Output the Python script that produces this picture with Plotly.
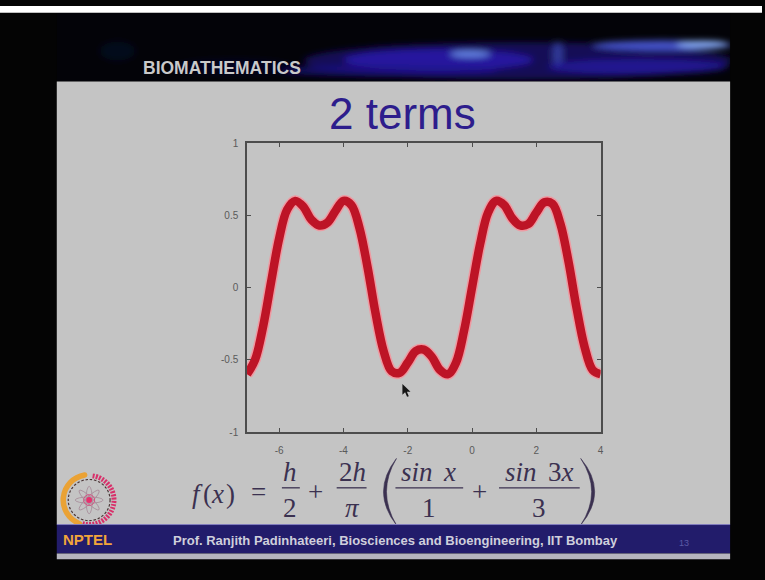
import base64
import math
import plotly.graph_objects as go

W, H = 765, 580

# Two-term Fourier partial sum, values sampled along the x axis
x_vals = [-7.0, -6.75, -6.5, -6.25, -6.0, -5.75, -5.5, -5.25, -5.0, -4.75, -4.5, -4.25,
          -4.0, -3.75, -3.5, -3.25, -3.0, -2.75, -2.5, -2.25, -2.0, -1.75, -1.5, -1.25,
          -1.0, -0.75, -0.5, -0.25, 0.0, 0.25, 0.5, 0.75, 1.0, 1.25, 1.5, 1.75,
          2.0, 2.25, 2.5, 2.75, 3.0, 3.25, 3.5, 3.75, 4.0]
y_vals = [-0.60, -0.50, -0.27, 0.04, 0.34, 0.54, 0.60, 0.56, 0.47, 0.43, 0.45, 0.53,
          0.60, 0.57, 0.41, 0.14, -0.18, -0.44, -0.58, -0.59, -0.52, -0.44, -0.43, -0.48,
          -0.57, -0.60, -0.52, -0.30, 0.00, 0.30, 0.52, 0.60, 0.57, 0.48, 0.43, 0.44,
          0.52, 0.59, 0.58, 0.44, 0.18, -0.14, -0.41, -0.57, -0.60]

x_ticks = [-6, -4, -2, 0, 2, 4]
x_ticklabels = ["-6", "-4", "-2", "0", "2", "4"]
y_ticks = [-1, -0.5, 0, 0.5, 1]
y_ticklabels = ["-1", "-0.5", "0", "0.5", "1"]

title_text = "2 terms"
header_text = "BIOMATHEMATICS"
footer_text = "Prof. Ranjith Padinhateeri, Biosciences and Bioengineering, IIT Bombay"
logo_text = "NPTEL"
page_no = "13"

SLIDE = "#c4c4c4"
NAVY = "#221c6b"
FORMULA = "#3b3150"
SERIF = "Liberation Serif, Times New Roman, serif"
SANS = "Liberation Sans, Arial, sans-serif"


def px(x):
    return x / W


def py(y):
    return 1 - y / H


def svg_uri(svg):
    return "data:image/svg+xml;base64," + base64.b64encode(svg.encode()).decode()


def arc(cx, cy, r, a0, a1, sweep):
    p0 = (cx + r * math.cos(math.radians(a0)), cy - r * math.sin(math.radians(a0)))
    p1 = (cx + r * math.cos(math.radians(a1)), cy - r * math.sin(math.radians(a1)))
    large = 1 if abs(a1 - a0) > 180 else 0
    return f"M{p0[0]:.2f},{p0[1]:.2f} A{r},{r} 0 {large} {sweep} {p1[0]:.2f},{p1[1]:.2f}"


# ---- header glow (blurred blue streaks) ----
hx0, hy0, hw, hh = 57, 7, 676, 70
streaks = [
    (520, 56, 215, 19, "#170f5e", 0.9),
    (440, 55, 95, 11, "#2a1cb0", 0.8),
    (472, 49, 20, 3.5, "#6a8ee8", 0.9),
    (560, 50, 5, 14, "#3c4cb8", 0.7),
    (665, 40, 70, 5, "#4a5ad8", 0.9),
    (705, 39, 26, 3.5, "#8fb6ff", 0.95),
    (640, 62, 90, 8, "#22159c", 0.8),
    (390, 66, 110, 6, "#1d138c", 0.7),
    (118, 46, 18, 10, "#0e1448", 0.3),
    (235, 62, 60, 8, "#0c0c40", 0.4),
]
ell = "".join(
    f"<ellipse cx='{cx - hx0}' cy='{cy - hy0}' rx='{rx}' ry='{ry}' fill='{c}' opacity='{o}'/>"
    for cx, cy, rx, ry, c, o in streaks
)
header_svg = (
    f"<svg xmlns='http://www.w3.org/2000/svg' width='{hw}' height='{hh}' viewBox='0 0 {hw} {hh}'>"
    "<defs><filter id='b' x='-20%' y='-50%' width='140%' height='200%'>"
    "<feGaussianBlur stdDeviation='3.5'/></filter></defs>"
    f"<rect width='{hw}' height='{hh}' fill='#030308'/>"
    f"<g filter='url(#b)'>{ell}</g></svg>"
)

# ---- NPTEL emblem ----
c = 32
petals = "".join(
    f"<ellipse cx='{c}' cy='{c}' rx='14' ry='3.2' transform='rotate({a} {c} {c})' "
    "fill='none' stroke='#a88f9c' stroke-width='0.9'/>"
    for a in (0, 45, 90, 135)
)
logo_svg = (
    "<svg xmlns='http://www.w3.org/2000/svg' width='64' height='64' viewBox='0 0 64 64'>"
    f"<path d='{arc(c, c, 26, 100, 248, 0)}' fill='none' stroke='#eaa235' stroke-width='5.5' stroke-linecap='round'/>"
    f"<path d='{arc(c, c, 25, 82, -108, 1)}' fill='none' stroke='#d8306a' stroke-width='5' stroke-dasharray='2 1.3'/>"
    f"<circle cx='{c}' cy='{c}' r='21' fill='none' stroke='#4a3535' stroke-width='1.2' stroke-dasharray='2.5 1.8'/>"
    f"{petals}"
    f"<circle cx='{c}' cy='{c}' r='5.5' fill='none' stroke='#d05080' stroke-width='1'/>"
    f"<circle cx='{c}' cy='{c}' r='3' fill='#e8306e'/>"
    "</svg>"
)

# ---- mouse pointer ----
cursor_svg = (
    "<svg xmlns='http://www.w3.org/2000/svg' width='10' height='15' viewBox='0 0 10 15'>"
    "<polygon points='0.5,0.5 0.5,11.5 3.2,9 5.2,13.6 6.9,12.9 5,8.4 8.6,8.4' fill='#161616'/>"
    "</svg>"
)

fig = go.Figure()
fig.add_trace(go.Scatter(x=x_vals, y=y_vals, mode="lines",
                         line=dict(color="#ee9aa2", width=11.5, shape="spline"),
                         hoverinfo="skip", showlegend=False))
fig.add_trace(go.Scatter(x=x_vals, y=y_vals, mode="lines",
                         line=dict(color="#bd1426", width=8.5, shape="spline"),
                         showlegend=False))

shapes = [
    dict(type="rect", xref="paper", yref="paper", x0=0, x1=1, y0=py(0), y1=py(7),
         fillcolor="#ffffff", line_width=0, layer="below"),
    dict(type="rect", xref="paper", yref="paper", x0=px(57), x1=px(733), y0=py(77), y1=py(529),
         fillcolor=SLIDE, line_width=0, layer="below"),
]

# fraction bars
for a, b in [(283, 301), (338, 368), (397, 465), (501, 582)]:
    shapes.append(dict(type="line", xref="paper", yref="paper", x0=px(a), x1=px(b),
                       y0=py(492), y1=py(492), line=dict(color=FORMULA, width=1.3)))


def paren(xe, xo, xi, top, bot):
    mid = (top + bot) / 2
    return (f"M{px(xe)},{py(top)} Q{px(xo)},{py(mid)} {px(xe)},{py(bot)} "
            f"Q{px(xi)},{py(mid)} {px(xe)},{py(top)} Z")


shapes.append(dict(type="path", xref="paper", yref="paper", path=paren(398, 372, 378, 462, 530),
                   fillcolor=FORMULA, line=dict(color=FORMULA, width=0.6)))
shapes.append(dict(type="path", xref="paper", yref="paper", path=paren(583, 611, 605, 462, 530),
                   fillcolor=FORMULA, line=dict(color=FORMULA, width=0.6)))

# footer band
shapes += [
    dict(type="rect", xref="paper", yref="paper", x0=px(57), x1=px(733), y0=py(529), y1=py(559),
         fillcolor=NAVY, line_width=0),
    dict(type="line", xref="paper", yref="paper", x0=px(57), x1=px(733), y0=py(529.5), y1=py(529.5),
         line=dict(color="#8580c0", width=1)),
    dict(type="rect", xref="paper", yref="paper", x0=px(57), x1=px(733), y0=py(559), y1=py(565),
         fillcolor="#b5b5be", line_width=0),
]

images = [
    dict(source=svg_uri(header_svg), xref="paper", yref="paper", x=px(hx0), y=py(hy0),
         sizex=hw / W, sizey=hh / H, xanchor="left", yanchor="top", sizing="stretch", layer="below"),
    dict(source=svg_uri(logo_svg), xref="paper", yref="paper", x=px(57.5), y=py(472.5),
         sizex=64 / W, sizey=64 / H, xanchor="left", yanchor="top", sizing="stretch", layer="above"),
    dict(source=svg_uri(cursor_svg), xref="paper", yref="paper", x=px(403.5), y=py(385.5),
         sizex=10 / W, sizey=15 / H, xanchor="left", yanchor="top", sizing="stretch", layer="above"),
]

annotations = []


def text(t, x, baseline, size, color, family, anchor="center", asc=0.3375):
    annotations.append(dict(text=t, x=px(x), y=py(baseline - asc * size), xref="paper", yref="paper",
                            xanchor=anchor, yanchor="middle", showarrow=False,
                            font=dict(size=size, color=color, family=family)))


text(f"<b>{header_text}</b>", 142, 69, 17.5, "#c9c9c9", SANS, anchor="left", asc=0.3465)
text(title_text, 404, 125, 44, "#2d1d8c", SANS, asc=0.3465)

fs = 27
formula = [
    ("<i>f</i>", 198, 507), ("(", 208, 507), ("<i>x</i>", 218.5, 507), (")", 231, 507),
    ("=", 260, 505),
    ("<i>h</i>", 291.5, 485), ("2", 291.5, 522),
    ("+", 316.5, 505),
    ("2<i>h</i>", 353.5, 485), ("<i>π</i>", 353.5, 522),
    ("<i>sin</i>", 419, 485), ("<i>x</i>", 451, 485), ("1", 431, 522),
    ("+", 481.5, 505),
    ("<i>sin</i>", 523, 485), ("3<i>x</i>", 563.5, 485), ("3", 541, 522),
]
for t, x, b in formula:
    text(t, x, b, fs, FORMULA, SERIF)

text(f"<b>{logo_text}</b>", 61, 550, 15, "#f2a53a", SANS, anchor="left", asc=0.3465)
text(f"<b>{footer_text}</b>", 172, 550, 13, "#cfcfdc", SANS, anchor="left", asc=0.3465)
text(page_no, 687, 551, 9, "#5a5aa6", SANS, asc=0.3465)

axis_common = dict(showline=True, linecolor="#4d4d4d", linewidth=1.5, mirror="ticks",
                   ticks="inside", ticklen=4, tickwidth=1, tickcolor="#4d4d4d",
                   showgrid=False, zeroline=False,
                   tickfont=dict(size=10, color="#5a5a5a", family=SANS))

fig.update_layout(
    width=W, height=H,
    margin=dict(l=0, r=0, t=0, b=0),
    paper_bgcolor="#040404",
    plot_bgcolor="rgba(0,0,0,0)",
    xaxis=dict(domain=[px(248), px(603)], range=[-7, 4], tickvals=x_ticks,
               ticktext=x_ticklabels, ticklabelstandoff=8, **axis_common),
    yaxis=dict(domain=[py(435), py(140)], range=[-1, 1], tickvals=y_ticks,
               ticktext=y_ticklabels, ticklabelstandoff=5, **axis_common),
    shapes=shapes,
    images=images,
    annotations=annotations,
    showlegend=False,
)

fig.write_html("out.html")
